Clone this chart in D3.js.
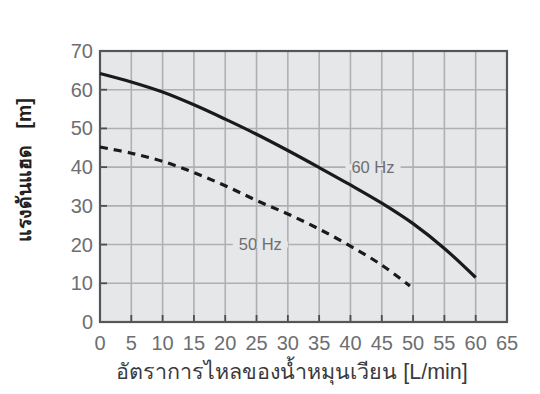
<!DOCTYPE html>
<html><head><meta charset="utf-8">
<script src="https://cdn.jsdelivr.net/npm/d3@7"></script>
<style>body{margin:0;background:#fff}svg{display:block}</style>
</head><body>
<svg id="c" width="540" height="394"></svg>
<script>
const xTicks = [0,5,10,15,20,25,30,35,40,45,50,55,60,65];
const yTicks = [0,10,20,30,40,50,60,70];
const flow60 = [0,5,10,15,20,25,30,35,40,45,50,55,60];
const head60 = [64.2,62.0,59.4,56.1,52.4,48.5,44.3,39.9,35.4,30.7,25.4,19.0,11.5];
const flow50 = [0,5,10,15,20,25,30,35,40,45,49.5];
const head50 = [45.2,43.6,41.5,38.6,35.2,31.4,27.9,24.0,19.6,14.7,9.3];
const labels = [{text:"60 Hz", x:43.6, y:40},{text:"50 Hz", x:25.6, y:20}];
const xTitle = "อัตราการไหลของน้ำหมุนเวียน [L/min]";
const yTitle = "แรงดันแฮด   [m]";

const svg = d3.select("#c");
const m = {l:100, r:33, t:51, b:72};
const W = 540, H = 394;
const x = d3.scaleLinear().domain([0,65]).range([m.l, W-m.r]);
const y = d3.scaleLinear().domain([0,70]).range([H-m.b, m.t]);
const font = "'Liberation Sans', Arial, 'Noto Sans', sans-serif";

svg.append("rect").attr("x",x(0)).attr("y",y(70)).attr("width",x(65)-x(0)).attr("height",y(0)-y(70)).attr("fill","#e6e7e8");

// grid
svg.append("g").selectAll("line").data(xTicks.filter(d=>d>0&&d<65)).join("line")
  .attr("x1",d=>x(d)).attr("x2",d=>x(d)).attr("y1",y(0)).attr("y2",y(70))
  .attr("stroke","#aeb0b2").attr("stroke-width",1.6);
svg.append("g").selectAll("line").data(yTicks.filter(d=>d>0&&d<70)).join("line")
  .attr("y1",d=>y(d)).attr("y2",d=>y(d)).attr("x1",x(0)).attr("x2",x(65))
  .attr("stroke","#aeb0b2").attr("stroke-width",1.6);

// ticks (dark, short)
svg.append("g").selectAll("line").data(xTicks.filter(d=>d>0&&d<65)).join("line")
  .attr("x1",d=>x(d)).attr("x2",d=>x(d)).attr("y1",y(0)).attr("y2",y(0)-7)
  .attr("stroke","#4d4d4f").attr("stroke-width",1.8);
svg.append("g").selectAll("line").data(yTicks.filter(d=>d>0&&d<70)).join("line")
  .attr("y1",d=>y(d)).attr("y2",d=>y(d)).attr("x1",x(0)).attr("x2",x(0)+7)
  .attr("stroke","#4d4d4f").attr("stroke-width",1.8);

// frame
svg.append("rect").attr("x",x(0)).attr("y",y(70)).attr("width",x(65)-x(0)).attr("height",y(0)-y(70))
  .attr("fill","none").attr("stroke","#555658").attr("stroke-width",2.2);

// curves
const line = d3.line().curve(d3.curveCatmullRom.alpha(0.5));
svg.append("path").attr("d",line(flow60.map((f,i)=>[x(f),y(head60[i])])))
  .attr("fill","none").attr("stroke","#1a1a1a").attr("stroke-width",3.2);
svg.append("path").attr("d",line(flow50.map((f,i)=>[x(f),y(head50[i])])))
  .attr("fill","none").attr("stroke","#1a1a1a").attr("stroke-width",3.2).attr("stroke-dasharray","8,6");

// curve labels
labels.forEach(l=>{
  const t = svg.append("text").attr("x",x(l.x)).attr("y",y(l.y)).attr("dy","0.35em")
    .attr("text-anchor","middle").attr("font-family",font).attr("font-size",16.5).attr("fill","#6d6e71").text(l.text);
  const bb = t.node().getBBox();
  svg.insert("rect", () => t.node()).attr("x",bb.x-6).attr("y",y(l.y)-3).attr("width",bb.width+12).attr("height",6).attr("fill","#e6e7e8");
});

// tick labels
svg.append("g").selectAll("text").data(xTicks).join("text")
  .attr("x",d=>x(d)).attr("y",y(0)+21).attr("dy","0.35em").attr("text-anchor","middle")
  .attr("font-family",font).attr("font-size",20).attr("fill","#6d6e71").text(d=>d);
svg.append("g").selectAll("text").data(yTicks).join("text")
  .attr("x",x(0)-7).attr("y",d=>y(d)).attr("dy","0.35em").attr("text-anchor","end")
  .attr("font-family",font).attr("font-size",20).attr("fill","#6d6e71").text(d=>d);

// titles
svg.append("text").attr("x",292).attr("y",379).attr("text-anchor","middle")
  .attr("font-family",font).attr("font-size",21.5).attr("fill","#3a3a3c").text(xTitle);
svg.append("text").attr("transform","translate(31,170) rotate(-90)").attr("text-anchor","middle")
  .attr("font-family",font).attr("font-size",19.5).attr("font-weight","bold").attr("fill","#231f20")
  .attr("xml:space","preserve").style("white-space","pre").text(yTitle);
</script>
</body></html>
